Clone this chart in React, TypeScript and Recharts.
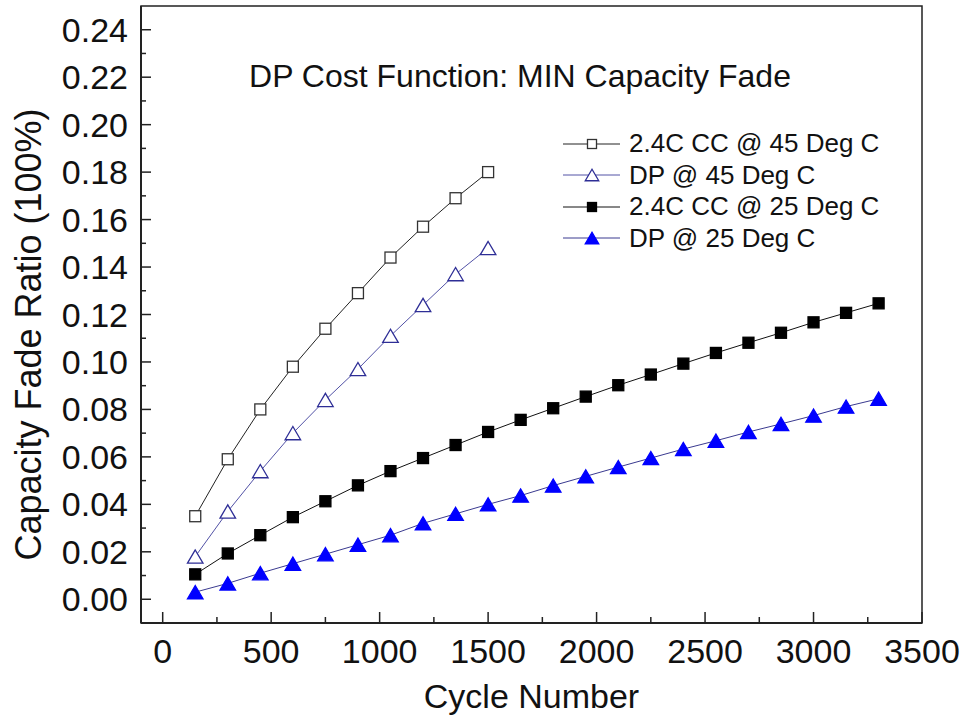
import { LineChart, Line, XAxis, YAxis, Legend, ReferenceArea, Customized, Label } from 'recharts'

const cycles45 = [150, 300, 450, 600, 750, 900, 1050, 1200, 1350, 1500]
const cycles25 = [150, 300, 450, 600, 750, 900, 1050, 1200, 1350, 1500, 1650, 1800, 1950, 2100, 2250, 2400, 2550, 2700, 2850, 3000, 3150, 3300]

const ccAt45 = [0.035, 0.059, 0.080, 0.098, 0.114, 0.129, 0.144, 0.157, 0.169, 0.180]
const dpAt45 = [0.018, 0.037, 0.054, 0.070, 0.084, 0.097, 0.111, 0.124, 0.137, 0.148]
const ccAt25 = [0.0105, 0.0193, 0.027, 0.0346, 0.0413, 0.048, 0.054, 0.0595, 0.065, 0.0705, 0.0756, 0.0805, 0.0854, 0.0902, 0.0947, 0.0993, 0.1038, 0.1081, 0.1123, 0.1167, 0.1207, 0.1247]
const dpAt25 = [0.003, 0.0067, 0.011, 0.015, 0.019, 0.023, 0.027, 0.032, 0.036, 0.040, 0.0437, 0.0479, 0.0518, 0.0557, 0.0595, 0.0633, 0.0668, 0.0705, 0.0739, 0.0774, 0.0812, 0.0845]

const xTicks = [0, 250, 500, 750, 1000, 1250, 1500, 1750, 2000, 2250, 2500, 2750, 3000, 3250, 3500]
const xLabelled = [0, 500, 1000, 1500, 2000, 2500, 3000, 3500]
const yTicks = [0, 0.01, 0.02, 0.03, 0.04, 0.05, 0.06, 0.07, 0.08, 0.09, 0.10, 0.11, 0.12, 0.13, 0.14, 0.15, 0.16, 0.17, 0.18, 0.19, 0.20, 0.21, 0.22, 0.23, 0.24]

const FONT = '"Liberation Sans", Arial, sans-serif'
const INK = '#111'

const toPoints = (xs: number[], ys: number[]) => xs.map((x, i) => ({ x, y: ys[i] }))

const seriesList = [
  { key: 'cc45', name: '2.4C CC @ 45 Deg C', data: toPoints(cycles45, ccAt45), shape: 'square', fill: '#fff', stroke: '#333', line: '#222' },
  { key: 'dp45', name: 'DP @ 45 Deg C', data: toPoints(cycles45, dpAt45), shape: 'triangle', fill: '#fff', stroke: '#2e2e96', line: '#5252a6' },
  { key: 'cc25', name: '2.4C CC @ 25 Deg C', data: toPoints(cycles25, ccAt25), shape: 'square', fill: '#000', stroke: '#000', line: '#111' },
  { key: 'dp25', name: 'DP @ 25 Deg C', data: toPoints(cycles25, dpAt25), shape: 'triangle', fill: '#0000ff', stroke: '#0000ff', line: '#3a3a90' },
]

function Marker({ shape, cx, cy, fill, stroke, size }: any) {
  if (cx == null || cy == null) return null
  if (shape === 'square') {
    return <rect x={cx - size / 2} y={cy - size / 2} width={size} height={size} fill={fill} stroke={stroke} strokeWidth={1.3} />
  }
  const w = size * 1.35
  const h = size * 1.15
  const pts = `${cx},${cy - h / 2} ${cx - w / 2},${cy + h / 2} ${cx + w / 2},${cy + h / 2}`
  return <polygon points={pts} fill={fill} stroke={stroke} strokeWidth={1.3} strokeLinejoin="miter" />
}

function XTick({ x, y, payload }: any) {
  const major = xLabelled.includes(payload.value)
  return (
    <g>
      <line x1={x} x2={x} y1={y} y2={y - (major ? 11 : 6)} stroke="#222" strokeWidth={1.5} />
      {major && (
        <text x={x} y={y + 40} textAnchor="middle" fontSize={34} fontFamily={FONT} fill={INK}>
          {payload.value}
        </text>
      )}
    </g>
  )
}

function YTick({ x, y, payload }: any) {
  const major = Math.round(payload.value * 100) % 2 === 0
  return (
    <g>
      <line x1={x} x2={x + (major ? 10 : 5)} y1={y} y2={y} stroke="#222" strokeWidth={1.5} />
      {major && (
        <text x={x - 13} y={y + 12} textAnchor="end" fontSize={34} fontFamily={FONT} fill={INK}>
          {payload.value.toFixed(2)}
        </text>
      )}
    </g>
  )
}

function LegendBox() {
  return (
    <div style={{ fontFamily: FONT, fontSize: 26, color: INK }}>
      {seriesList.map((s) => (
        <div key={s.key} style={{ display: 'flex', alignItems: 'center', height: 31.5, whiteSpace: 'nowrap' }}>
          <svg width={66} height={20} style={{ display: 'block' }}>
            <line x1={0} x2={57} y1={10} y2={10} stroke={s.line} strokeWidth={1} />
            <Marker shape={s.shape} cx={29} cy={10} fill={s.fill} stroke={s.stroke} size={s.shape === 'square' ? 9 : 10} />
          </svg>
          <span style={{ lineHeight: '31.5px' }}>{s.name}</span>
        </div>
      ))}
    </div>
  )
}

function Title() {
  return (
    <text x={520} y={87} textAnchor="middle" fontSize={32} fontFamily={FONT} fill={INK}>
      DP Cost Function: MIN Capacity Fade
    </text>
  )
}

export default function App() {
  return (
    <div style={{ position: 'absolute', left: 0, top: 0, width: 967, height: 722, background: '#fff' }}>
      <LineChart width={967} height={722} margin={{ top: 6, right: 45, bottom: 0, left: 0 }}>
        <ReferenceArea x1={-100} x2={3500} y1={-0.01} y2={0.25} fill="none" stroke="#222" strokeWidth={1.5} ifOverflow="visible" />
        <XAxis
          type="number"
          dataKey="x"
          domain={[-100, 3500]}
          ticks={xTicks}
          interval={0}
          allowDataOverflow
          height={99}
          tickLine={false}
          tickSize={0}
          tickMargin={0}
          tick={XTick}
          axisLine={{ stroke: '#222', strokeWidth: 2 }}
        >
          <Label
            content={({ viewBox }: any) => (
              <text x={viewBox.x + viewBox.width / 2} y={viewBox.y + 85} textAnchor="middle" fontSize={34} fontFamily={FONT} fill={INK}>
                Cycle Number
              </text>
            )}
          />
        </XAxis>
        <YAxis
          type="number"
          domain={[-0.01, 0.25]}
          ticks={yTicks}
          interval={0}
          allowDataOverflow
          width={141}
          tickLine={false}
          tickSize={0}
          tickMargin={0}
          tick={YTick}
          axisLine={{ stroke: '#222', strokeWidth: 2 }}
        >
          <Label
            content={({ viewBox }: any) => {
              const cx = 41
              const cy = viewBox.y + viewBox.height / 2 + 20
              return (
                <text x={cx} y={cy} transform={`rotate(-90 ${cx} ${cy})`} textAnchor="middle" fontSize={36} fontFamily={FONT} fill={INK}>
                  Capacity Fade Ratio (100%)
                </text>
              )
            }}
          />
        </YAxis>
        {seriesList.map((s) => (
          <Line
            key={s.key}
            data={s.data}
            dataKey="y"
            name={s.name}
            type="linear"
            stroke={s.line}
            strokeWidth={1}
            isAnimationActive={false}
            dot={(p: any) => (
              <Marker key={`${s.key}-${p.index}`} shape={s.shape} cx={p.cx} cy={p.cy} fill={s.fill} stroke={s.stroke} size={s.shape === 'square' ? 11 : 11.5} />
            )}
            activeDot={false}
          />
        ))}
        <Legend
          layout="vertical"
          align="center"
          verticalAlign="middle"
          wrapperStyle={{ left: 563, top: 128, width: 360 }}
          content={() => <LegendBox />}
        />
        <Customized component={Title} />
      </LineChart>
    </div>
  )
}
